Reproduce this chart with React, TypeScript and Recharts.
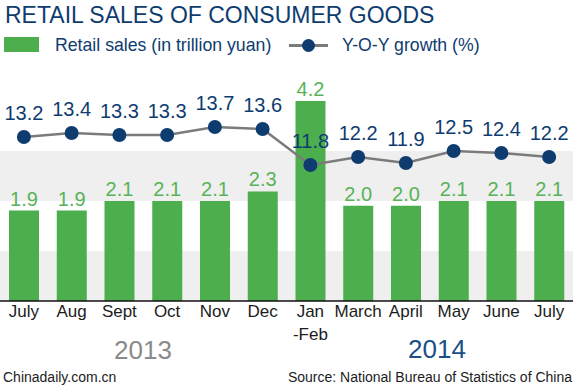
import React from 'react';
import {
  ComposedChart,
  Bar,
  Line,
  XAxis,
  YAxis,
  LabelList,
  ReferenceArea,
} from 'recharts';

const months = ['July', 'Aug', 'Sept', 'Oct', 'Nov', 'Dec', 'Jan\n-Feb', 'March', 'April', 'May', 'June', 'July'];
const sales = [1.9, 1.9, 2.1, 2.1, 2.1, 2.3, 4.2, 2.0, 2.0, 2.1, 2.1, 2.1];
const growth = [13.2, 13.4, 13.3, 13.3, 13.7, 13.6, 11.8, 12.2, 11.9, 12.5, 12.4, 12.2];

const data = months.map((m, i) => ({ month: m, sales: sales[i], growth: growth[i] }));

const FONT = '"Liberation Sans", Arial, sans-serif';
const NAVY = '#0e3c6f';
const GREEN = '#4cae4c';
const LABEL_GREEN = '#58b358';

// background stripe bands, on the growth axis scale
const stripes = [
  [5, 7.5],
  [10, 12.5],
];

const MonthTick = (props: any) => {
  const { x, y, payload } = props;
  const lines = String(payload.value).split('\n');
  return (
    <text x={x} y={y} textAnchor="middle" fill="#1c1c1c" fontSize={17} fontFamily={FONT}>
      {lines.map((l, i) => (
        <tspan key={i} x={x} dy={i === 0 ? 16 : 23}>
          {l}
        </tspan>
      ))}
    </text>
  );
};

const abs = (left: number, top: number, extra: React.CSSProperties = {}): React.CSSProperties => ({
  position: 'absolute',
  left,
  top,
  fontFamily: FONT,
  whiteSpace: 'nowrap',
  lineHeight: 1,
  ...extra,
});

export default function App() {
  return (
    <div style={{ position: 'absolute', left: 0, top: 0, width: 580, height: 385, background: '#fff', overflow: 'hidden' }}>
      <ComposedChart
        width={580}
        height={385}
        data={data}
        margin={{ top: 70, right: 7, bottom: 44, left: 0 }}
        barSize={30}
      >
        <XAxis
          dataKey="month"
          interval={0}
          tickLine={false}
          tickSize={0}
          tickMargin={0}
          height={40}
          axisLine={{ stroke: '#111', strokeWidth: 1.5 }}
          tick={<MonthTick />}
        />
        <YAxis yAxisId="sales" hide domain={[0, 4.85]} />
        <YAxis yAxisId="growth" hide domain={[5, 16.55]} />
        {stripes.map(([a, b], i) => (
          <ReferenceArea
            key={i}
            yAxisId="growth"
            y1={a}
            y2={b}
            fill="#efefef"
            fillOpacity={1}
            stroke="none"
            ifOverflow="visible"
          />
        ))}
        <Bar yAxisId="sales" dataKey="sales" fill={GREEN} isAnimationActive={false}>
          <LabelList dataKey="sales" position="top" offset={5} fill={LABEL_GREEN} fontSize={20} fontFamily={FONT} formatter={(v: any) => Number(v).toFixed(1)} />
        </Bar>
        <Line
          yAxisId="growth"
          dataKey="growth"
          stroke="#7b7b7b"
          strokeWidth={2.5}
          dot={{ r: 7, fill: NAVY, stroke: NAVY, strokeWidth: 0 }}
          activeDot={false}
          isAnimationActive={false}
        >
          <LabelList dataKey="growth" position="top" offset={17} fill={NAVY} fontSize={20} fontFamily={FONT} formatter={(v: any) => Number(v).toFixed(1)} />
        </Line>
      </ComposedChart>

      <div style={abs(5, 4, { fontSize: 23, color: NAVY })}>RETAIL SALES OF CONSUMER GOODS</div>

      <div style={abs(4, 37, { width: 35, height: 15, background: GREEN })} />
      <div style={abs(55, 37, { fontSize: 17.7, color: NAVY })}>Retail sales (in trillion yuan)</div>
      <div style={abs(289, 44, { width: 39, height: 2.5, background: '#7b7b7b' })} />
      <div style={abs(302, 39, { width: 13, height: 13, borderRadius: '50%', background: NAVY })} />
      <div style={abs(342, 37, { fontSize: 17.7, color: NAVY })}>Y-O-Y growth (%)</div>

      <div style={abs(114, 337, { fontSize: 26, color: '#8a8a8a' })}>2013</div>
      <div style={abs(408, 336, { fontSize: 26, color: '#1c4f88' })}>2014</div>

      <div style={abs(3, 370, { fontSize: 14, color: '#1c1c1c' })}>Chinadaily.com.cn</div>
      <div style={abs(0, 370, { fontSize: 14, color: '#1c1c1c', width: 572, textAlign: 'right' })}>
        Source: National Bureau of Statistics of China
      </div>
    </div>
  );
}
